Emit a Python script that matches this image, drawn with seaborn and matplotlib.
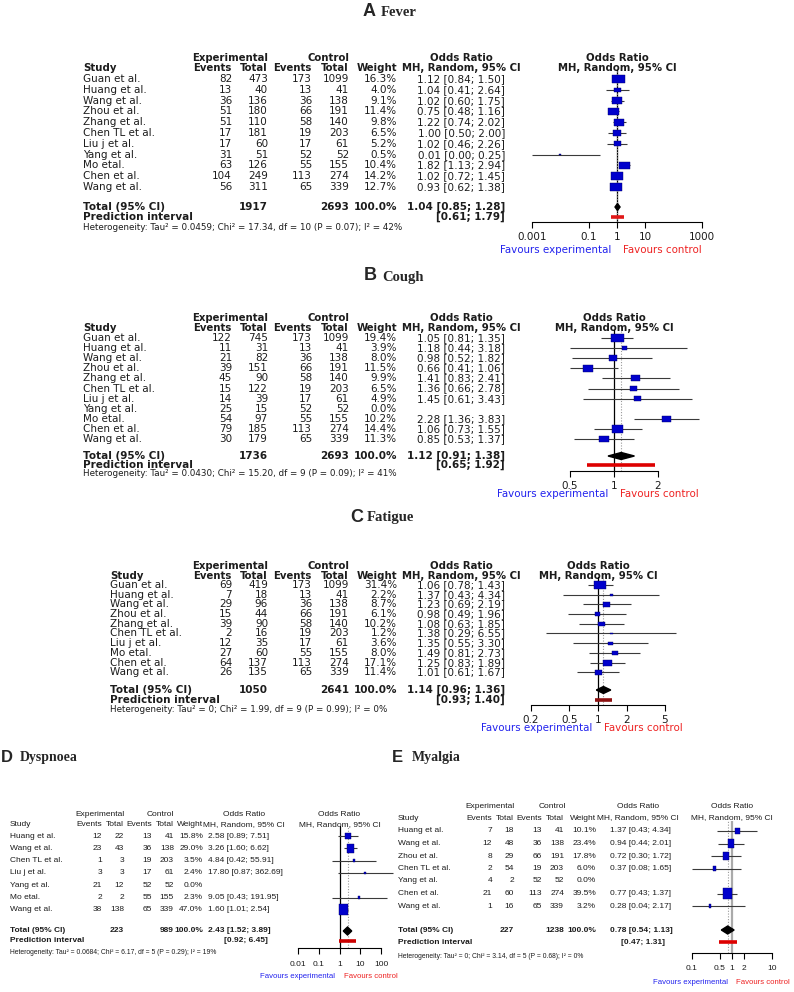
import matplotlib
matplotlib.use("Agg")
import matplotlib.pyplot as plt
from matplotlib.markers import MarkerStyle
from matplotlib.ticker import NullLocator
import numpy as np
import seaborn as sns

# ---------------- data ----------------
fever_study = ["Guan et al.", "Huang et al.", "Wang et al.", "Zhou et al.", "Zhang et al.", "Chen TL et al.",
               "Liu j et al.", "Yang et al.", "Mo etal.", "Chen et al.", "Wang et al."]
fever_exp_ev = [82, 13, 36, 51, 51, 17, 17, 31, 63, 104, 56]
fever_exp_n = [473, 40, 136, 180, 110, 181, 60, 51, 126, 249, 311]
fever_ctl_ev = [173, 13, 36, 66, 58, 19, 17, 52, 55, 113, 65]
fever_ctl_n = [1099, 41, 138, 191, 140, 203, 61, 52, 155, 274, 339]
fever_w = [16.3, 4.0, 9.1, 11.4, 9.8, 6.5, 5.2, 0.5, 10.4, 14.2, 12.7]
fever_or = [1.12, 1.04, 1.02, 0.75, 1.22, 1.00, 1.02, 0.01, 1.82, 1.02, 0.93]
fever_lo = [0.84, 0.41, 0.60, 0.48, 0.74, 0.50, 0.46, 0.00, 1.13, 0.72, 0.62]
fever_hi = [1.50, 2.64, 1.75, 1.16, 2.02, 2.00, 2.26, 0.25, 2.94, 1.45, 1.38]
fever_total = [1917, 2693, 1.04, 0.85, 1.28]
fever_pred = [0.61, 1.79]
fever_het = "Heterogeneity: Tau² = 0.0459; Chi² = 17.34, df = 10 (P = 0.07); I² = 42%"

cough_study = ["Guan et al.", "Huang et al.", "Wang et al.", "Zhou et al.", "Zhang et al.", "Chen TL et al.",
               "Liu j et al.", "Yang et al.", "Mo etal.", "Chen et al.", "Wang et al."]
cough_exp_ev = [122, 11, 21, 39, 45, 15, 14, 25, 54, 79, 30]
cough_exp_n = [745, 31, 82, 151, 90, 122, 39, 15, 97, 185, 179]
cough_ctl_ev = [173, 13, 36, 66, 58, 19, 17, 52, 55, 113, 65]
cough_ctl_n = [1099, 41, 138, 191, 140, 203, 61, 52, 155, 274, 339]
cough_w = [19.4, 3.9, 8.0, 11.5, 9.9, 6.5, 4.9, 0.0, 10.2, 14.4, 11.3]
cough_or = [1.05, 1.18, 0.98, 0.66, 1.41, 1.36, 1.45, None, 2.28, 1.06, 0.85]
cough_lo = [0.81, 0.44, 0.52, 0.41, 0.83, 0.66, 0.61, None, 1.36, 0.73, 0.53]
cough_hi = [1.35, 3.18, 1.82, 1.06, 2.41, 2.78, 3.43, None, 3.83, 1.55, 1.37]
cough_total = [1736, 2693, 1.12, 0.91, 1.38]
cough_pred = [0.65, 1.92]
cough_het = "Heterogeneity: Tau² = 0.0430; Chi² = 15.20, df = 9 (P = 0.09); I² = 41%"

fatigue_study = ["Guan et al.", "Huang et al.", "Wang et al.", "Zhou et al.", "Zhang et al.", "Chen TL et al.",
                 "Liu j et al.", "Mo etal.", "Chen et al.", "Wang et al."]
fatigue_exp_ev = [69, 7, 29, 15, 39, 2, 12, 27, 64, 26]
fatigue_exp_n = [419, 18, 96, 44, 90, 16, 35, 60, 137, 135]
fatigue_ctl_ev = [173, 13, 36, 66, 58, 19, 17, 55, 113, 65]
fatigue_ctl_n = [1099, 41, 138, 191, 140, 203, 61, 155, 274, 339]
fatigue_w = [31.4, 2.2, 8.7, 6.1, 10.2, 1.2, 3.6, 8.0, 17.1, 11.4]
fatigue_or = [1.06, 1.37, 1.23, 0.98, 1.08, 1.38, 1.35, 1.49, 1.25, 1.01]
fatigue_lo = [0.78, 0.43, 0.69, 0.49, 0.63, 0.29, 0.55, 0.81, 0.83, 0.61]
fatigue_hi = [1.43, 4.34, 2.19, 1.96, 1.85, 6.55, 3.30, 2.73, 1.89, 1.67]
fatigue_total = [1050, 2641, 1.14, 0.96, 1.36]
fatigue_pred = [0.93, 1.40]
fatigue_het = "Heterogeneity: Tau² = 0; Chi² = 1.99, df = 9 (P = 0.99); I² = 0%"

dysp_study = ["Huang et al.", "Wang et al.", "Chen TL et al.", "Liu j et al.", "Yang et al.", "Mo etal.", "Wang et al."]
dysp_exp_ev = [12, 23, 1, 3, 21, 2, 38]
dysp_exp_n = [22, 43, 3, 3, 12, 2, 138]
dysp_ctl_ev = [13, 36, 19, 17, 52, 55, 65]
dysp_ctl_n = [41, 138, 203, 61, 52, 155, 339]
dysp_w = [15.8, 29.0, 3.5, 2.4, 0.0, 2.3, 47.0]
dysp_or = [2.58, 3.26, 4.84, 17.80, None, 9.05, 1.60]
dysp_lo = [0.89, 1.60, 0.42, 0.87, None, 0.43, 1.01]
dysp_hi = [7.51, 6.62, 55.91, 362.69, None, 191.95, 2.54]
dysp_total = [223, 989, 2.43, 1.52, 3.89]
dysp_pred = [0.92, 6.45]
dysp_het = "Heterogeneity: Tau² = 0.0684; Chi² = 6.17, df = 5 (P = 0.29); I² = 19%"

myal_study = ["Huang et al.", "Wang et al.", "Zhou et al.", "Chen TL et al.", "Yang et al.", "Chen et al.", "Wang et al."]
myal_exp_ev = [7, 12, 8, 2, 4, 21, 1]
myal_exp_n = [18, 48, 29, 54, 2, 60, 16]
myal_ctl_ev = [13, 36, 66, 19, 52, 113, 65]
myal_ctl_n = [41, 138, 191, 203, 52, 274, 339]
myal_w = [10.1, 23.4, 17.8, 6.0, 0.0, 39.5, 3.2]
myal_or = [1.37, 0.94, 0.72, 0.37, None, 0.77, 0.28]
myal_lo = [0.43, 0.44, 0.30, 0.08, None, 0.43, 0.04]
myal_hi = [4.34, 2.01, 1.72, 1.65, None, 1.37, 2.17]
myal_total = [227, 1238, 0.78, 0.54, 1.13]
myal_pred = [0.47, 1.31]
myal_het = "Heterogeneity: Tau² = 0; Chi² = 3.14, df = 5 (P = 0.68); I² = 0%"

fever_ticks = [0.001, 0.1, 1, 10, 1000]
cough_ticks = [0.5, 1, 2]
fatigue_ticks = [0.2, 0.5, 1, 2, 5]
dysp_ticks = [0.01, 0.1, 1, 10, 100]
myal_ticks = [0.1, 0.5, 1, 2, 10]

# ---------------- style ----------------
sns.set_theme(style="white")
plt.rcParams["font.family"] = ["DejaVu Sans"]

W, H = 794, 992
fig = plt.figure(figsize=(W / 100, H / 100), dpi=100)
base = fig.add_axes([0, 0, 1, 1])
base.set_xlim(0, W)
base.set_ylim(H, 0)
base.axis("off")

BLUE = "#0000CC"
INK = "#1c1c1c"


def txt(x, y, s, ha="left", size=7.5, bold=False, color=INK, family="DejaVu Sans"):
    base.text(x, y, s, ha=ha, va="center", fontsize=size, fontweight="bold" if bold else "normal",
              color=color, family=family)


def fmt_ci(o, l, h):
    return f"{o:.2f} [{l:.2f}; {h:.2f}]"


def draw_panel(d, L):
    fam = L["font"]
    fs = L["fs"]
    hfs = L["hdr_fs"]
    hb = L["hdr_bold"]
    # panel title: letter + symptom name
    base.text(L["letter_x"], L["title_y"], d["letter"], fontsize=L["letter_fs"], fontweight="bold",
              family="Liberation Sans", va="center")
    base.text(L["name_x"], L["title_y"] + 1, d["name"], fontsize=L["name_fs"], fontweight="bold",
              family="Liberation Serif", va="center")
    c = L["cols"]
    txt(L["exp_c"], L["hdr1"], "Experimental", ha="center", size=hfs, bold=hb, family=fam)
    txt(L["ctl_c"], L["hdr1"], "Control", ha="center", size=hfs, bold=hb, family=fam)
    txt(L["or_c"], L["hdr1"], "Odds Ratio", ha="center", size=hfs, bold=hb, family=fam)
    txt(L["study_x"], L["hdr2"], "Study", size=hfs, bold=hb, family=fam)
    for x, s in zip(c, ["Events", "Total", "Events", "Total", "Weight"]):
        txt(x, L["hdr2"], s, ha="right", size=hfs, bold=hb, family=fam)
    txt(L["or_c"], L["hdr2"], "MH, Random, 95% CI", ha="center", size=hfs, bold=hb, family=fam)
    pc = (L["px"][0] + L["px"][1]) / 2
    txt(pc, L["hdr1"], "Odds Ratio", ha="center", size=hfs, bold=hb, family=fam)
    txt(pc, L["hdr2"], "MH, Random, 95% CI", ha="center", size=hfs, bold=hb, family=fam)

    ci_ha = L["ci_ha"]
    n = len(d["study"])
    ys = L["row0"] + L["step"] * np.arange(n)
    for i in range(n):
        y = ys[i]
        txt(L["study_x"], y, d["study"][i], size=fs, family=fam)
        for x, v in zip(c[:4], [d["exp_ev"][i], d["exp_n"][i], d["ctl_ev"][i], d["ctl_n"][i]]):
            txt(x, y, str(v), ha="right", size=fs, family=fam)
        txt(c[4], y, f"{d['w'][i]:.1f}%", ha="right", size=fs, family=fam)
        if d["or"][i] is not None:
            txt(L["ci_x"], y, fmt_ci(d["or"][i], d["lo"][i], d["hi"][i]), ha=ci_ha, size=fs, family=fam)

    et, ct, so, sl, sh = d["total"]
    txt(L["study_x"], L["tot"], "Total (95% CI)", size=fs, bold=True, family=fam)
    txt(c[1], L["tot"], str(et), ha="right", size=fs, bold=True, family=fam)
    txt(c[3], L["tot"], str(ct), ha="right", size=fs, bold=True, family=fam)
    txt(c[4], L["tot"], "100.0%", ha="right", size=fs, bold=True, family=fam)
    txt(L["ci_x"], L["tot"], fmt_ci(so, sl, sh), ha=ci_ha, size=fs, bold=True, family=fam)
    txt(L["study_x"], L["pred"], "Prediction interval", size=fs, bold=True, family=fam)
    pl, ph = d["pred"]
    txt(L["pred_x"], L["pred"], f"[{pl:.2f}; {ph:.2f}]", ha="right", size=fs, bold=True, family=fam)
    txt(L["study_x"], L["het"], d["het"], size=L["het_fs"], family=fam)

    # forest plot axes; y data runs in page pixels so rows line up with the table
    x0, x1 = L["px"]
    top = L["row0"] - L["step"] * 0.8
    ax = fig.add_axes([x0 / W, 1 - L["axis"] / H, (x1 - x0) / W, (L["axis"] - top) / H])
    ax.patch.set_alpha(0)
    ticks = d["ticks"]
    ax.set_xscale("log")
    ax.set_xlim(ticks[0], ticks[-1])
    ax.set_ylim(L["axis"], top)

    ax.axvline(1, color=L["ref_col"], lw=L["ref_lw"], zorder=1)
    ax.axvline(so, color="#999999", ls=(0, (1, 1.5)), lw=0.8, zorder=1)

    mask = [o is not None for o in d["or"]]
    o = np.array([v for v, m in zip(d["or"], mask) if m])
    lo = np.array([v for v, m in zip(d["lo"], mask) if m])
    hi = np.array([v for v, m in zip(d["hi"], mask) if m])
    w = np.array([v for v, m in zip(d["w"], mask) if m])
    yy = ys[mask]
    lo = np.maximum(lo, ticks[0])
    ax.hlines(yy, lo, hi, color="#3a3a3a", lw=0.8, clip_on=False, zorder=2)

    a = L["sq_aspect"]
    if a >= 1:
        verts = [(-1, -1 / a), (1, -1 / a), (1, 1 / a), (-1, 1 / a), (-1, -1 / a)]
    else:
        verts = [(-a, -1), (a, -1), (a, 1), (-a, 1), (-a, -1)]
    side_pt = L["sq_max"] * 0.72 * np.sqrt(w / w.max())
    sns.scatterplot(x=o, y=yy, s=side_pt ** 2, marker=MarkerStyle(verts), color=BLUE,
                    edgecolor="#000066", linewidth=0.3, ax=ax, legend=False, clip_on=False, zorder=3)

    dh = L["dia_h"]
    ax.fill([sl, so, sh, so], [L["tot"], L["tot"] - dh, L["tot"], L["tot"] + dh],
            color="black", clip_on=False, zorder=4)
    ax.hlines([L["pred"]], pl, ph, color=L["pi_col"], lw=2.6, clip_on=False, zorder=4)

    for s in ["top", "left", "right"]:
        ax.spines[s].set_visible(False)
    ax.spines["bottom"].set_color("black")
    ax.spines["bottom"].set_linewidth(0.8)
    ax.set_xticks(ticks)
    ax.set_xticklabels([f"{t:g}" for t in ticks], fontsize=L["tick_fs"], family=fam, color=INK)
    ax.xaxis.set_minor_locator(NullLocator())
    ax.set_yticks([])
    ax.tick_params(axis="x", direction="out", length=4, width=0.8, color="black", pad=L["tick_pad"],
                   bottom=True)

    g = L["fav_gap"]
    txt(pc - g, L["fav"], "Favours experimental", ha="right", size=L["fav_fs"], color="#2222EE", family=fam)
    txt(pc + g, L["fav"], "Favours control", ha="left", size=L["fav_fs"], color="#EE2222", family=fam)


common_abc = dict(font="DejaVu Sans", fs=7.5, hdr_fs=7.3, hdr_bold=True, het_fs=6.3, tick_fs=7.5,
                  fav_fs=7.4, letter_fs=13, name_fs=10.5, sq_aspect=1.5, fav_gap=6, dia_h=3.5,
                  tick_pad=3, ci_ha="right", ref_col="black", ref_lw=0.9,
                  cols=[232, 268, 312, 349, 397], ci_x=505, pred_x=505, exp_c=230, ctl_c=328, or_c=461)
common_de = dict(font="Liberation Sans", fs=6.0, hdr_fs=6.0, hdr_bold=False, het_fs=4.9, tick_fs=6.0,
                 fav_fs=5.6, letter_fs=12, name_fs=10, sq_aspect=0.8, fav_gap=4, dia_h=4, tick_pad=5,
                 ci_ha="left")

panels = [
    (dict(letter="A", name="Fever", study=fever_study, exp_ev=fever_exp_ev, exp_n=fever_exp_n,
          ctl_ev=fever_ctl_ev, ctl_n=fever_ctl_n, w=fever_w, **{"or": fever_or}, lo=fever_lo,
          hi=fever_hi, total=fever_total, pred=fever_pred, het=fever_het, ticks=fever_ticks),
     dict(common_abc, title_y=12, letter_x=363, name_x=381, hdr1=58, hdr2=68, row0=79, step=10.8,
          tot=207, pred=217, het=227, axis=222, fav=250, study_x=83, px=(532, 702), sq_max=13,
          pi_col="#E01818")),
    (dict(letter="B", name="Cough", study=cough_study, exp_ev=cough_exp_ev, exp_n=cough_exp_n,
          ctl_ev=cough_ctl_ev, ctl_n=cough_ctl_n, w=cough_w, **{"or": cough_or}, lo=cough_lo,
          hi=cough_hi, total=cough_total, pred=cough_pred, het=cough_het, ticks=cough_ticks),
     dict(common_abc, title_y=276, letter_x=364, name_x=382, hdr1=318, hdr2=328, row0=338, step=10.1,
          tot=456, pred=465, het=474, axis=471, fav=494, study_x=83, px=(570, 658), sq_max=13,
          pi_col="#DD0000")),
    (dict(letter="C", name="Fatigue", study=fatigue_study, exp_ev=fatigue_exp_ev, exp_n=fatigue_exp_n,
          ctl_ev=fatigue_ctl_ev, ctl_n=fatigue_ctl_n, w=fatigue_w, **{"or": fatigue_or}, lo=fatigue_lo,
          hi=fatigue_hi, total=fatigue_total, pred=fatigue_pred, het=fatigue_het, ticks=fatigue_ticks),
     dict(common_abc, title_y=517, letter_x=350, name_x=367, hdr1=566, hdr2=576, row0=585, step=9.7,
          tot=690, pred=700, het=709, axis=705, fav=728, study_x=110, px=(531, 665), sq_max=12,
          pi_col="#8B1010")),
    (dict(letter="D", name="Dyspnoea", study=dysp_study, exp_ev=dysp_exp_ev, exp_n=dysp_exp_n,
          ctl_ev=dysp_ctl_ev, ctl_n=dysp_ctl_n, w=dysp_w, **{"or": dysp_or}, lo=dysp_lo,
          hi=dysp_hi, total=dysp_total, pred=dysp_pred, het=dysp_het, ticks=dysp_ticks),
     dict(common_de, title_y=757, letter_x=1, name_x=20, hdr1=814, hdr2=825, row0=836, step=12.3,
          tot=931, pred=941, het=953, axis=948, fav=977, study_x=10, cols=[102, 124, 152, 174, 203],
          ci_x=208, pred_x=268, exp_c=100, ctl_c=160, or_c=244, px=(298, 381), sq_max=11,
          pi_col="#CC0000", ref_col="black", ref_lw=0.9)),
    (dict(letter="E", name="Myalgia", study=myal_study, exp_ev=myal_exp_ev, exp_n=myal_exp_n,
          ctl_ev=myal_ctl_ev, ctl_n=myal_ctl_n, w=myal_w, **{"or": myal_or}, lo=myal_lo,
          hi=myal_hi, total=myal_total, pred=myal_pred, het=myal_het, ticks=myal_ticks),
     dict(common_de, title_y=757, letter_x=392, name_x=412, hdr1=806, hdr2=818, row0=831, step=12.5,
          tot=930, pred=942, het=956, axis=953, fav=982, study_x=398, cols=[492, 514, 542, 564, 596],
          ci_x=610, pred_x=665, exp_c=490, ctl_c=552, or_c=638, px=(692, 772), sq_max=11,
          pi_col="#DD0000", ref_col="#AAAAAA", ref_lw=1.6)),
]

for d, L in panels:
    draw_panel(d, L)

fig.savefig("out.png", dpi=100, facecolor="white")
